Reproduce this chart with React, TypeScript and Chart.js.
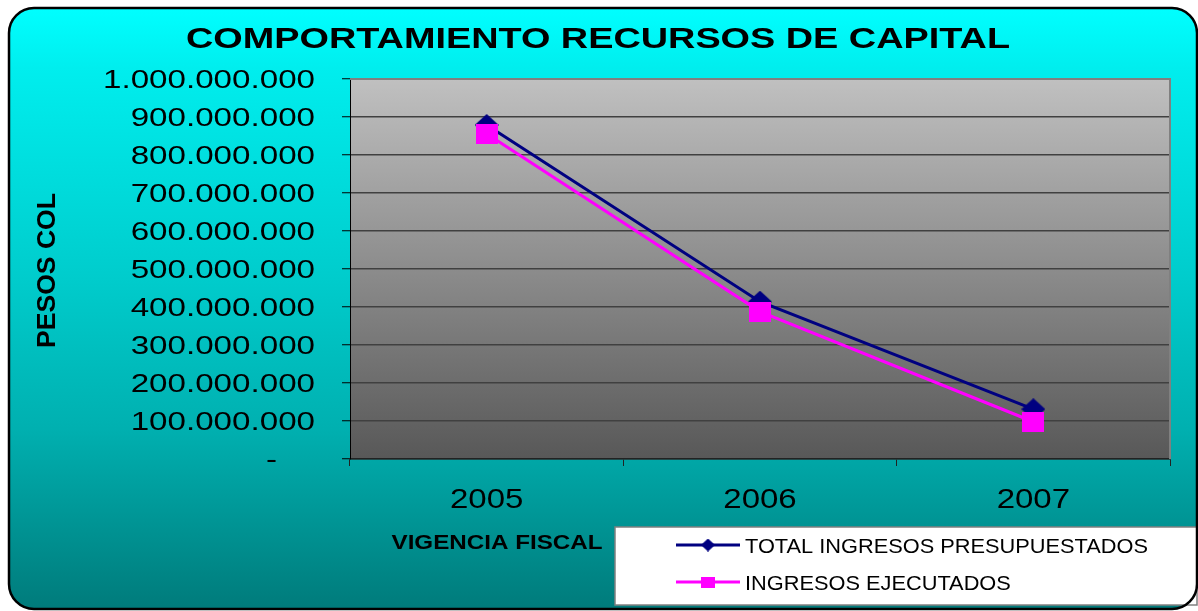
import { useEffect, useRef } from 'react';
import { Chart, registerables } from 'chart.js';

Chart.register(...registerables);

const categories = ['2005', '2006', '2007'];
const presupuestados = [879000000, 414000000, 131000000];
const ejecutados = [856000000, 388000000, 98000000];
const yMin = 0;
const yMax = 1000000000;
const yStep = 100000000;
const titleText = 'COMPORTAMIENTO RECURSOS DE CAPITAL';
const yTitle = 'PESOS COL';
const xTitle = 'VIGENCIA FISCAL';
const seriesLabels = ['TOTAL INGRESOS PRESUPUESTADOS', 'INGRESOS EJECUTADOS'];
const seriesColors = ['#000080', '#FF00FF'];

const FONT = '"Liberation Sans", Arial, sans-serif';

function fmt(v: number): string {
  if (v === 0) return '-';
  return String(Math.round(v)).replace(/\B(?=(\d{3})+(?!\d))/g, '.');
}

function makeDiamond(w: number, h: number, color: string) {
  const c = document.createElement('canvas');
  c.width = w;
  c.height = h;
  const g = c.getContext('2d')!;
  g.fillStyle = color;
  g.beginPath();
  g.moveTo(w / 2, 0);
  g.lineTo(w, h / 2);
  g.lineTo(w / 2, h);
  g.lineTo(0, h / 2);
  g.closePath();
  g.fill();
  return c;
}

function makeRect(w: number, h: number, color: string) {
  const c = document.createElement('canvas');
  c.width = w;
  c.height = h;
  const g = c.getContext('2d')!;
  g.fillStyle = color;
  g.fillRect(0, 0, w, h);
  return c;
}

function fitScale(ctx: CanvasRenderingContext2D, text: string, font: string, target: number) {
  ctx.save();
  ctx.font = font;
  const w = ctx.measureText(text).width;
  ctx.restore();
  return w > 0 ? target / w : 1;
}

function drawText(
  ctx: CanvasRenderingContext2D,
  text: string,
  x: number,
  y: number,
  font: string,
  sx: number,
  align: CanvasTextAlign,
  rot = 0
) {
  ctx.save();
  ctx.font = font;
  ctx.fillStyle = '#000';
  ctx.textAlign = align;
  ctx.textBaseline = 'alphabetic';
  ctx.translate(x, y);
  if (rot) ctx.rotate(rot);
  ctx.scale(sx, 1);
  ctx.fillText(text, 0, 0);
  ctx.restore();
}

function roundRectPath(ctx: CanvasRenderingContext2D, x: number, y: number, w: number, h: number, r: number) {
  ctx.beginPath();
  ctx.moveTo(x + r, y);
  ctx.lineTo(x + w - r, y);
  ctx.arcTo(x + w, y, x + w, y + r, r);
  ctx.lineTo(x + w, y + h - r);
  ctx.arcTo(x + w, y + h, x + w - r, y + h, r);
  ctx.lineTo(x + r, y + h);
  ctx.arcTo(x, y + h, x, y + h - r, r);
  ctx.lineTo(x, y + r);
  ctx.arcTo(x, y, x + r, y, r);
  ctx.closePath();
}

const FRAME = { x: 9, y: 8, w: 1188, h: 601, r: 25 };

const decor = {
  id: 'decor',
  beforeDraw(chart: any) {
    const ctx: CanvasRenderingContext2D = chart.ctx;
    ctx.save();
    roundRectPath(ctx, FRAME.x, FRAME.y, FRAME.w, FRAME.h, FRAME.r);
    const g = ctx.createLinearGradient(0, FRAME.y, 0, FRAME.y + FRAME.h);
    g.addColorStop(0, '#00FFFF');
    g.addColorStop(0.1, '#00EEEE');
    g.addColorStop(0.44, '#00CDCD');
    g.addColorStop(0.7, '#00B0B0');
    g.addColorStop(1, '#007B7B');
    ctx.fillStyle = g;
    ctx.fill();
    const a = chart.chartArea;
    const pg = ctx.createLinearGradient(0, a.top, 0, a.bottom);
    pg.addColorStop(0, '#C0C0C0');
    pg.addColorStop(1, '#585858');
    ctx.fillStyle = pg;
    ctx.fillRect(a.left, a.top, a.right - a.left, a.bottom - a.top);
    ctx.restore();
  },
  beforeDatasetsDraw(chart: any) {
    const ctx: CanvasRenderingContext2D = chart.ctx;
    const a = chart.chartArea;
    ctx.save();
    ctx.strokeStyle = '#808080';
    ctx.lineWidth = 2;
    ctx.beginPath();
    ctx.moveTo(a.left, a.top);
    ctx.lineTo(a.right, a.top);
    ctx.lineTo(a.right, a.bottom);
    ctx.stroke();
    ctx.restore();
  },
  afterDraw(chart: any) {
    const ctx: CanvasRenderingContext2D = chart.ctx;
    const ys = chart.scales.y;
    const xs = chart.scales.x;

    // Title
    const tFont = `bold 29px ${FONT}`;
    drawText(ctx, titleText, 598, 48.3, tFont, fitScale(ctx, titleText, tFont, 824), 'center');

    // Y tick labels
    const yFont = `26px ${FONT}`;
    const ySx = fitScale(ctx, fmt(yMax), yFont, 212);
    ys.ticks.forEach((t: any) => {
      const py = ys.getPixelForValue(t.value);
      const label = fmt(t.value);
      drawText(ctx, label, t.value === 0 ? 277 : 315, py + 8.7, yFont, ySx, 'right');
    });

    // X tick labels
    const xFont = `28px ${FONT}`;
    const xSx = fitScale(ctx, categories[0], xFont, 73.4);
    categories.forEach((c, i) => {
      const px = xs.getPixelForValue(i);
      drawText(ctx, c, px, 508.3, xFont, xSx, 'center');
    });

    // Axis titles
    const atFont = `bold 20px ${FONT}`;
    drawText(ctx, xTitle, 497, 549.3, atFont, fitScale(ctx, xTitle, atFont, 211), 'center');
    const ayFont = `bold 26px ${FONT}`;
    drawText(ctx, yTitle, 55, 270.5, ayFont, fitScale(ctx, yTitle, ayFont, 155), 'center', -Math.PI / 2);

    // Legend
    ctx.save();
    ctx.fillStyle = '#FFFFFF';
    ctx.fillRect(615, 527, FRAME.x + FRAME.w - 615, 78);
    ctx.strokeStyle = '#808080';
    ctx.lineWidth = 1.5;
    ctx.strokeRect(615, 527, FRAME.x + FRAME.w - 615, 78);
    ctx.restore();
    const lFont = `21px ${FONT}`;
    const lSx = fitScale(ctx, seriesLabels[0], lFont, 403);
    const rows = [545, 582];
    const markers = [makeDiamond(14, 13, seriesColors[0]), makeRect(14, 11, seriesColors[1])];
    seriesLabels.forEach((lab, i) => {
      const y = rows[i];
      ctx.save();
      ctx.strokeStyle = seriesColors[i];
      ctx.lineWidth = 3;
      ctx.beginPath();
      ctx.moveTo(676, y);
      ctx.lineTo(740, y);
      ctx.stroke();
      const m = markers[i];
      ctx.drawImage(m, 708 - m.width / 2, y - m.height / 2);
      ctx.restore();
      drawText(ctx, lab, 745, y + 8, lFont, lSx, 'left');
    });

    // Frame border
    ctx.save();
    roundRectPath(ctx, FRAME.x, FRAME.y, FRAME.w, FRAME.h, FRAME.r);
    ctx.strokeStyle = '#000';
    ctx.lineWidth = 2.5;
    ctx.stroke();
    ctx.restore();
  },
};

export default function App() {
  const ref = useRef<HTMLCanvasElement>(null);
  useEffect(() => {
    const canvas = ref.current!;
    const diamond = makeDiamond(24, 22, seriesColors[0]);
    const square = makeRect(22, 20, seriesColors[1]);
    const chart = new Chart(canvas, {
      type: 'line',
      data: {
        labels: categories,
        datasets: [
          {
            label: seriesLabels[0],
            data: presupuestados,
            borderColor: seriesColors[0],
            backgroundColor: seriesColors[0],
            borderWidth: 3,
            tension: 0,
            pointStyle: diamond as any,
            pointRadius: 12,
            order: 1,
          },
          {
            label: seriesLabels[1],
            data: ejecutados,
            borderColor: seriesColors[1],
            backgroundColor: seriesColors[1],
            borderWidth: 3,
            tension: 0,
            pointStyle: square as any,
            pointRadius: 11,
            order: 0,
          },
        ],
      },
      options: {
        responsive: false,
        animation: false,
        devicePixelRatio: 1,
        events: [],
        layout: { padding: { left: 0, right: 28, top: 79, bottom: 0 } },
        plugins: {
          legend: { display: false },
          title: { display: false },
          tooltip: { enabled: false },
        },
        scales: {
          x: {
            type: 'category',
            offset: true,
            grid: {
              offset: true,
              drawOnChartArea: false,
              drawTicks: true,
              tickLength: 7,
              color: '#222',
              tickColor: '#222',
              lineWidth: 1,
            },
            border: { display: true, color: '#222', width: 1.5 },
            ticks: { color: 'rgba(0,0,0,0)', font: { size: 26 } },
            afterFit: (s: any) => {
              s.height = 152;
            },
          },
          y: {
            min: yMin,
            max: yMax,
            ticks: {
              stepSize: yStep,
              color: 'rgba(0,0,0,0)',
              font: { size: 26 },
              callback: (v: any) => fmt(Number(v)),
            },
            grid: {
              color: '#404040',
              lineWidth: 1.5,
              drawTicks: true,
              tickLength: 8,
              tickColor: '#000',
              tickWidth: 1,
            },
            border: { display: true, color: '#000', width: 1 },
            afterFit: (s: any) => {
              s.width = 350;
            },
          },
        },
      },
      plugins: [decor],
    });
    return () => chart.destroy();
  }, []);
  return (
    <div style={{ position: 'fixed', left: 0, top: 0, width: 1198, height: 611 }}>
      <canvas ref={ref} width={1198} height={611} style={{ display: 'block', width: 1198, height: 611 }} />
    </div>
  );
}
